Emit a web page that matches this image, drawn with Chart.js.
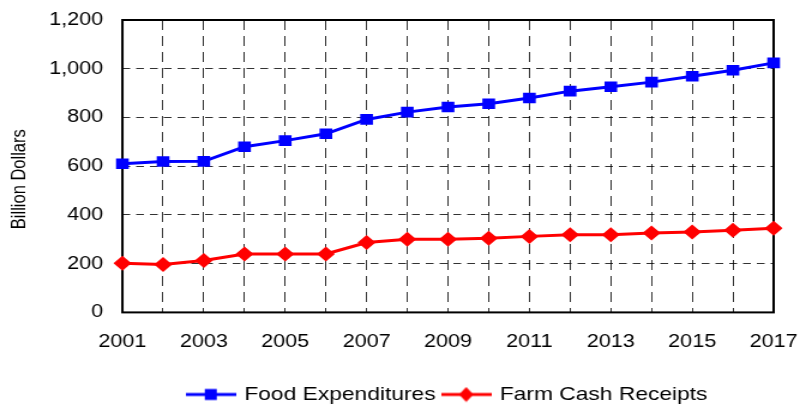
<!DOCTYPE html>
<html>
<head>
<meta charset="utf-8">
<script src="https://cdn.jsdelivr.net/npm/chart.js@4/dist/chart.umd.min.js"></script>
<style>
  html, body { margin: 0; padding: 0; background: #fff; overflow: hidden; }
  /* the reference is stretched sideways, so draw narrow and widen */
  #wrap { width: 677px; height: 404px; transform: scaleX(1.19941); transform-origin: 0 0; }
</style>
</head>
<body>
<div id="wrap"><canvas id="foodChart"></canvas></div>
<script>
const years = ["2001", "2002", "2003", "2004", "2005", "2006", "2007", "2008", "2009",
               "2010", "2011", "2012", "2013", "2014", "2015", "2016", "2017"];
const foodExpenditures = [610, 619, 620, 680, 705, 733, 792, 822, 843, 856, 880, 908, 926, 945, 969, 994, 1024];
const farmCashReceipts = [202, 197, 213, 240, 240, 240, 287, 300, 300, 304, 312, 319, 319, 326, 330, 337, 345];
const yTicks = [0, 200, 400, 600, 800, 1000, 1200];
const yTitle = "Billion Dollars";

const FONT = "'Liberation Sans', Arial, sans-serif";

// legend symbol: short line with the marker in the middle
function legendIcon(color, shape) {
    const c = document.createElement("canvas");
    c.width = 42;
    c.height = 16;
    const g = c.getContext("2d");
    g.strokeStyle = color;
    g.fillStyle = color;
    g.lineWidth = 3;
    g.beginPath();
    g.moveTo(0, 8);
    g.lineTo(42, 8);
    g.stroke();
    g.beginPath();
    if (shape === "rect") {
        g.rect(16, 2.5, 10, 11);
    } else {
        g.moveTo(21, 0.5);
        g.lineTo(27, 8);
        g.lineTo(21, 15.5);
        g.lineTo(15, 8);
        g.closePath();
    }
    g.fill();
    return c;
}

const plotBorder = {
    id: "plotBorder",
    beforeDatasetsDraw(chart) {
        const a = chart.chartArea;
        const ctx = chart.ctx;
        ctx.save();
        ctx.strokeStyle = "#000";
        ctx.lineWidth = 2;
        ctx.strokeRect(a.left, a.top, a.right - a.left, a.bottom - a.top);
        ctx.restore();
    }
};

const sideTitle = {
    id: "sideTitle",
    afterDraw(chart) {
        const a = chart.chartArea;
        const ctx = chart.ctx;
        ctx.save();
        ctx.translate(16.5, (a.top + a.bottom) / 2 + 13);
        ctx.rotate(-Math.PI / 2);
        ctx.font = "16.5px " + FONT;
        ctx.fillStyle = "#000";
        ctx.textAlign = "center";
        ctx.textBaseline = "middle";
        ctx.fillText(yTitle, 0, 0);
        ctx.restore();
    }
};

const ctx = document.getElementById("foodChart").getContext("2d");

const chart = new Chart(ctx, {
    type: "line",
    data: {
        labels: years,
        datasets: [{
            label: "Food Expenditures",
            data: foodExpenditures,
            borderColor: "#0000ff",
            backgroundColor: "#0000ff",
            borderWidth: 3,
            pointStyle: "rect",
            pointRadius: 7.5,
            pointBorderWidth: 0,
            tension: 0
        }, {
            label: "Farm Cash Receipts",
            data: farmCashReceipts,
            borderColor: "#ff0000",
            backgroundColor: "#ff0000",
            borderWidth: 3,
            pointStyle: "rectRot",
            pointRadius: 7.5,
            pointBorderWidth: 0,
            tension: 0
        }]
    },
    options: {
        responsive: true,
        maintainAspectRatio: false,
        animation: false,
        layout: {
            padding: { left: 25, right: 32, top: 20, bottom: -10 }
        },
        scales: {
            x: {
                type: "category",
                offset: false,
                border: { display: false, dash: [10, 6] },
                grid: {
                    color: "rgba(0,0,0,0.8)",
                    lineWidth: 1,
                    drawTicks: false
                },
                afterFit: (axis) => {
                    axis.height += 6;
                    axis.paddingLeft = 0;
                    axis.paddingRight = 0;
                },
                ticks: {
                    autoSkip: false,
                    maxRotation: 0,
                    padding: 19,
                    color: "#000",
                    font: { family: FONT, size: 18 },
                    callback: (v, i) => (i % 2 === 0 ? years[i] : "")
                }
            },
            y: {
                min: 0,
                max: 1200,
                border: { display: false, dash: [6.5, 5] },
                grid: {
                    color: "rgba(0,0,0,0.8)",
                    lineWidth: 1,
                    drawTicks: false
                },
                afterBuildTicks: (axis) => {
                    axis.ticks = yTicks.map(v => ({ value: v }));
                },
                afterFit: (axis) => {
                    axis.paddingTop = 0;
                    axis.paddingBottom = 0;
                },
                ticks: {
                    padding: 16,
                    color: "#000",
                    font: { family: FONT, size: 18 },
                    callback: (v) => v.toLocaleString("en-US")
                }
            }
        },
        plugins: {
            title: { display: false },
            tooltip: { enabled: false },
            legend: {
                position: "bottom",
                fullSize: false,
                labels: {
                    usePointStyle: true,
                    pointStyleWidth: 37,
                    padding: 7,
                    color: "#000",
                    font: { family: FONT, size: 19 },
                    generateLabels: (ch) => ch.data.datasets.map((ds, i) => ({
                        text: ds.label,
                        datasetIndex: i,
                        pointStyle: legendIcon(ds.borderColor, ds.pointStyle),
                        fillStyle: "rgba(0,0,0,0)",
                        strokeStyle: "rgba(0,0,0,0)",
                        lineWidth: 0,
                        fontColor: "#000",
                        hidden: false
                    }))
                }
            }
        }
    },
    plugins: [plotBorder, sideTitle]
});
</script>
</body>
</html>
